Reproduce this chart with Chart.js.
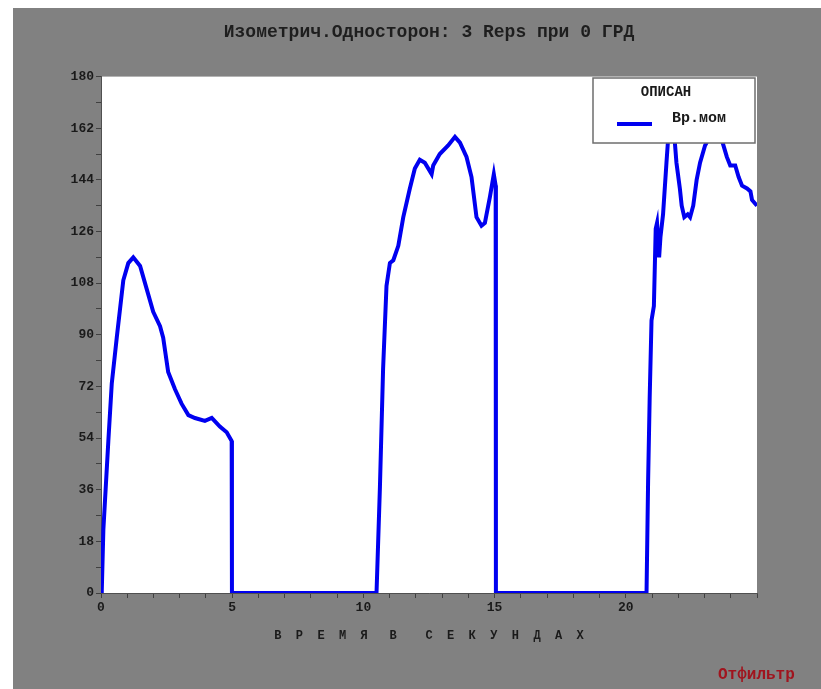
<!DOCTYPE html>
<html>
<head>
<meta charset="utf-8">
<script src="https://cdn.jsdelivr.net/npm/chart.js@4"></script>
<style>
  body { margin: 0; background: #fff; }
  #graf { position: absolute; left: 13px; top: 8px; background: #818181; }
</style>
</head>
<body>
<canvas id="graf" width="808" height="681"></canvas>
<script>
// время, сек
const timeSec = [0, 0.03, 0.09, 0.28, 0.41, 0.6, 0.85, 1.04, 1.23, 1.49, 1.74, 1.99, 2.25, 2.37, 2.56, 2.82, 3.07, 3.33, 3.58, 3.96, 4.22, 4.53, 4.79, 4.98, 4.99,
  10.5, 10.63, 10.75, 10.88, 11.01, 11.14, 11.33, 11.52, 11.77, 11.96, 12.15, 12.34, 12.6, 12.66, 12.91, 13.23, 13.49, 13.68, 13.93, 14.12, 14.31, 14.5, 14.63, 14.82, 14.97, 15.04, 15.05,
  20.79, 20.85, 20.91, 20.98, 21.07, 21.14, 21.19, 21.27, 21.32, 21.42, 21.55, 21.68, 21.74, 21.8, 21.87, 21.93, 22.06, 22.13, 22.23, 22.36, 22.45, 22.57, 22.7, 22.83, 23.02, 23.08, 23.4, 23.69, 23.85, 23.98, 24.17, 24.3, 24.43, 24.62, 24.75, 24.81, 25];
// Вр.мом
const torque = [0, 1, 22, 53, 73, 89, 109, 115, 117, 114, 106, 98, 93, 89, 77, 71, 66, 62, 61, 60, 61, 58, 56, 53, 0,
  0, 37, 78, 107, 115, 116, 121, 131, 141, 148, 151, 150, 146, 149, 153, 156, 159, 157, 152, 145, 131, 128, 129, 138, 146, 142, 0,
  0, 39, 68, 95, 100, 127, 129, 117, 124, 132, 150, 167, 177, 170, 157, 150, 141, 135, 131, 132, 131, 135, 144, 150, 156, 157, 165, 157, 152, 149, 149, 145, 142, 141, 140, 137, 135];
const xTicks = [0, 5, 10, 15, 20];
const yTicks = [0, 18, 36, 54, 72, 90, 108, 126, 144, 162, 180];

const monoFont = '"Liberation Mono", "DejaVu Sans Mono", monospace';

const plotBg = {
  id: 'plotBg',
  beforeDraw(chart) {
    const a = chart.chartArea, c = chart.ctx;
    c.save();
    c.fillStyle = '#ffffff';
    c.fillRect(a.left, a.top, a.right - a.left, a.bottom - a.top);
    c.restore();
  }
};

// легенда внутри поля графика + подпись внизу
const boxLegend = {
  id: 'boxLegend',
  afterDraw(chart) {
    const c = chart.ctx;
    c.save();
    c.fillStyle = '#ffffff';
    c.fillRect(580, 70, 162, 65);
    c.strokeStyle = '#6e6e6e';
    c.lineWidth = 1.5;
    c.strokeRect(580, 70, 162, 65);
    c.fillStyle = '#1a1a1a';
    c.font = 'bold 14px ' + monoFont;
    c.textAlign = 'center';
    c.textBaseline = 'middle';
    c.fillText('ОПИСАН', 653, 84);
    c.strokeStyle = '#0000f0';
    c.lineWidth = 4;
    c.beginPath();
    c.moveTo(604, 116);
    c.lineTo(639, 116);
    c.stroke();
    c.textAlign = 'left';
    c.font = 'bold 15px ' + monoFont;
    c.fillText('Вр.мом', 659, 110);
    c.fillStyle = '#a0141e';
    c.font = 'bold 16px ' + monoFont;
    c.fillText('Отфильтр', 705, 667);
    c.restore();
  }
};

new Chart(document.getElementById('graf'), {
  type: 'line',
  data: {
    datasets: [{
      label: 'Вр.мом',
      data: timeSec.map((t, i) => ({ x: t, y: torque[i] })),
      borderColor: '#0000f0',
      borderWidth: 4,
      pointRadius: 0,
      tension: 0,
      fill: false
    }]
  },
  options: {
    responsive: false,
    animation: false,
    devicePixelRatio: 1,
    layout: { padding: { left: 0, right: 64, top: 0, bottom: 0 } },
    plugins: {
      legend: { display: false },
      tooltip: { enabled: false },
      title: {
        display: true,
        fullSize: false,
        text: 'Изометрич.Односторон: 3 Reps при 0 ГРД',
        color: '#1e1e1e',
        font: { family: monoFont, size: 18, weight: 'bold' },
        padding: { top: 14, bottom: 33 }
      }
    },
    scales: {
      x: {
        type: 'linear',
        min: 0,
        max: 25,
        afterFit(s) { s.height = 96; },
        border: { color: '#505050', width: 1 },
        grid: { drawOnChartArea: false, tickLength: 5, tickColor: '#404040' },
        ticks: {
          stepSize: 1,
          autoSkip: false,
          maxRotation: 0,
          padding: 2,
          color: '#1a1a1a',
          font: { family: monoFont, size: 13, weight: 'bold' },
          callback: v => xTicks.includes(v) ? String(v) : ''
        },
        title: {
          display: true,
          text: 'В  Р  Е  М  Я   В    С  Е  К  У  Н  Д  А  Х',
          color: '#1a1a1a',
          font: { family: monoFont, size: 12, weight: 'bold' },
          padding: { top: 0, bottom: 46 }
        }
      },
      y: {
        min: 0,
        max: 180,
        afterFit(s) { s.width = 88; },
        border: { color: '#505050', width: 1 },
        grid: { drawOnChartArea: false, tickLength: 5, tickColor: '#404040' },
        ticks: {
          stepSize: 9,
          autoSkip: false,
          padding: 2,
          color: '#1a1a1a',
          font: { family: monoFont, size: 13, weight: 'bold' },
          callback: v => yTicks.includes(v) ? String(v) : ''
        }
      }
    }
  },
  plugins: [plotBg, boxLegend]
});
</script>
</body>
</html>
